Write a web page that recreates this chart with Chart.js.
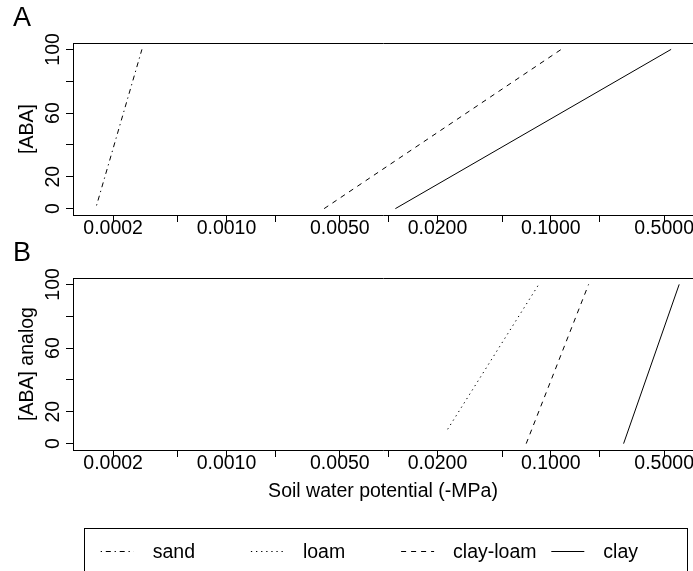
<!DOCTYPE html>
<html>
<head>
<meta charset="utf-8">
<script src="https://cdn.jsdelivr.net/npm/chart.js@4.4.1/dist/chart.umd.min.js"></script>
<style>
  html, body { margin: 0; padding: 0; background: #fff; overflow: hidden; }
  canvas { position: absolute; left: 0; }
  #graficoA { top: 0; }
  #graficoB { top: 240px; }
</style>
</head>
<body>
<canvas id="graficoA" width="693" height="240"></canvas>
<canvas id="graficoB" width="693" height="331"></canvas>
<script>
const solos = ['sand', 'loam', 'clay-loam', 'clay']
const tracos = [[1.3, 3.8, 5, 3.8], [1.3, 3.8], [5, 5], []]

// painel A: [ABA]
const sandA_x = [0.000158, 0.000301]
const sandA_y = [2, 100]
const clayLoamA_x = [0.0040, 0.116]
const clayLoamA_y = [0, 100]
const clayA_x = [0.011, 0.552]
const clayA_y = [0, 100]

// painel B: [ABA] analog
const loamB_x = [0.0231, 0.0843]
const loamB_y = [9, 100]
const clayLoamB_x = [0.0705, 0.171]
const clayLoamB_y = [0, 100]
const clayB_x = [0.281, 0.619]
const clayB_y = [0, 100]

const xTicks = [0.0002, 0.0005, 0.001, 0.002, 0.005, 0.01, 0.02, 0.05, 0.1, 0.2, 0.5]
const xRotulos = [0.0002, 0.001, 0.005, 0.02, 0.1, 0.5]
const yTicks = [0, 20, 40, 60, 80, 100]
const yRotulos = [0, 20, 60, 100]

Chart.defaults.font.family = '"Liberation Sans", Arial, sans-serif'
Chart.defaults.color = '#000'

function serie(nome, xs, ys) {
    return {
        label: nome,
        data: xs.map((x, i) => ({ x: x, y: ys[i] })),
        xAxisID: 'x',
        borderColor: '#000',
        borderWidth: 1,
        borderDash: tracos[solos.indexOf(nome)],
        pointRadius: 0,
        fill: false,
        tension: 0
    }
}

// legenda em caixa, colunas de largura fixa
const legendaSolos = {
    id: 'legendaSolos',
    afterDraw(chart) {
        const ctx = chart.ctx
        const yLinha = 311.5
        ctx.save()
        ctx.strokeStyle = '#000'
        ctx.lineWidth = 1
        ctx.strokeRect(84.5, 288.5, 603, 100)
        ctx.font = '19.5px "Liberation Sans", Arial, sans-serif'
        ctx.fillStyle = '#000'
        ctx.textBaseline = 'middle'
        solos.forEach((s, i) => {
            const x0 = 100.7 + i * 150.2
            ctx.setLineDash(tracos[i])
            ctx.beginPath()
            ctx.moveTo(x0, yLinha)
            ctx.lineTo(x0 + 33, yLinha)
            ctx.stroke()
            ctx.setLineDash([])
            ctx.fillText(s, x0 + 52, 313)
        })
        ctx.restore()
    }
}

function criarPainel(canvas, letra, tituloY, series, cfg) {
    return new Chart(canvas, {
        type: 'line',
        data: { datasets: series },
        plugins: cfg.plugins || [],
        options: {
            animation: false,
            responsive: false,
            layout: { padding: { left: 13, right: 0, top: 0, bottom: cfg.baixo } },
            plugins: {
                legend: { display: false },
                tooltip: { enabled: false },
                title: {
                    display: true,
                    text: letra,
                    align: 'start',
                    color: '#000',
                    font: { size: 27, weight: 'normal', lineHeight: 1 },
                    padding: { top: cfg.letraTopo, bottom: cfg.letraBaixo }
                }
            },
            scales: {
                x: {
                    type: 'logarithmic',
                    position: 'bottom',
                    min: 0.0001131,
                    max: 0.753,
                    afterBuildTicks: s => { s.ticks = xTicks.map(v => ({ value: v })) },
                    ticks: {
                        autoSkip: false,
                        minRotation: 0,
                        maxRotation: 0,
                        padding: -3,
                        font: { size: 19.5, lineHeight: 1 },
                        callback: v => xRotulos.includes(v) ? v.toFixed(4) : ''
                    },
                    grid: { drawOnChartArea: false, drawTicks: true, tickLength: 7, color: '#000' },
                    border: { display: true, color: '#000', width: 1 },
                    title: {
                        display: !!cfg.tituloX,
                        text: cfg.tituloX || '',
                        font: { size: 19.5 },
                        padding: { top: 0, bottom: 1.3 }
                    },
                    afterFit: s => { s.height = cfg.alturaX }
                },
                topo: {
                    type: 'linear',
                    position: 'top',
                    ticks: { display: false },
                    grid: { display: false },
                    border: { display: true, color: '#000', width: 1 },
                    afterFit: s => { s.height = 0 }
                },
                y: {
                    type: 'linear',
                    min: -4,
                    max: 104,
                    afterBuildTicks: s => { s.ticks = yTicks.map(v => ({ value: v })) },
                    ticks: {
                        autoSkip: false,
                        minRotation: 90,
                        maxRotation: 90,
                        crossAlign: 'center',
                        padding: -4,
                        font: { size: 19.5, lineHeight: 1 },
                        callback: v => yRotulos.includes(v) ? String(v) : ''
                    },
                    grid: { drawOnChartArea: false, drawTicks: true, tickLength: 7, color: '#000' },
                    border: { display: true, color: '#000', width: 1 },
                    title: {
                        display: true,
                        text: tituloY,
                        font: { size: 19.5 },
                        padding: { top: 2.8, bottom: 0 }
                    },
                    afterFit: s => { s.width = 60 }
                }
            }
        }
    })
}

const graficoA = criarPainel(document.getElementById('graficoA'), 'A', '[ABA]', [
    serie('sand', sandA_x, sandA_y),
    serie('clay-loam', clayLoamA_x, clayLoamA_y),
    serie('clay', clayA_x, clayA_y)
], { baixo: 0, alturaX: 25, letraTopo: 5.1, letraBaixo: 10.9 })

const graficoB = criarPainel(document.getElementById('graficoB'), 'B', '[ABA] analog', [
    serie('loam', loamB_x, loamB_y),
    serie('clay-loam', clayLoamB_x, clayLoamB_y),
    serie('clay', clayB_x, clayB_y)
], {
    baixo: 66, alturaX: 55, letraTopo: 0.5, letraBaixo: 10.5,
    tituloX: 'Soil water potential (-MPa)',
    plugins: [legendaSolos]
})
</script>
</body>
</html>
